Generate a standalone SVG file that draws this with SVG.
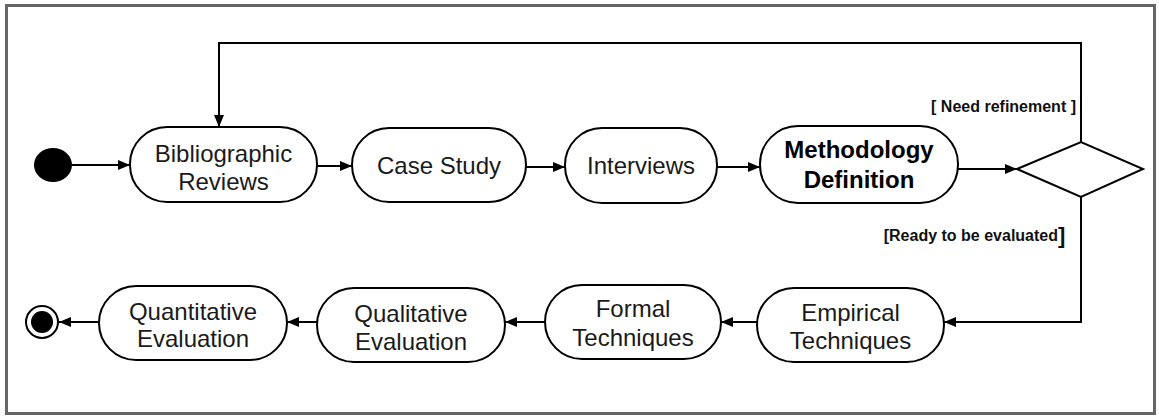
<svg xmlns="http://www.w3.org/2000/svg" width="1159" height="417" viewBox="0 0 1159 417">
<style>
.box{fill:#fff;stroke:#000;stroke-width:2}
.t{font-family:"Liberation Sans",Arial,sans-serif;font-size:24px;fill:#1a1a1a;text-anchor:middle}
.b{font-weight:bold;fill:#000}
.lbl{font-family:"Liberation Sans",Arial,sans-serif;font-size:16px;font-weight:bold;fill:#111;text-anchor:end}
.c{fill:none;stroke:#000;stroke-width:2}
</style>
<defs>
<marker id="ah" viewBox="0 0 12 10" refX="12" refY="5" markerWidth="12" markerHeight="10" markerUnits="userSpaceOnUse" orient="auto">
<path d="M0,0 L12,5 L0,10 Z" fill="#000"/>
</marker>
</defs>
<rect x="6.5" y="5.5" width="1148" height="408" fill="#fff" stroke="#666" stroke-width="3"/>
<g id="connectors">
<path class="c" d="M72,165 H130" marker-end="url(#ah)"/>
<path class="c" d="M317,166 H352" marker-end="url(#ah)"/>
<path class="c" d="M526,167 H565" marker-end="url(#ah)"/>
<path class="c" d="M717,167 H760" marker-end="url(#ah)"/>
<path class="c" d="M958,169 H1017" marker-end="url(#ah)"/>
<path class="c" d="M1081,142 V43 H219 V127" marker-end="url(#ah)"/>
<path class="c" d="M1081,197 V322 H944" marker-end="url(#ah)"/>
<path class="c" d="M757,322 H721" marker-end="url(#ah)"/>
<path class="c" d="M545,322 H505" marker-end="url(#ah)"/>
<path class="c" d="M317,322 H287" marker-end="url(#ah)"/>
<path class="c" d="M99,322 H59" marker-end="url(#ah)"/>
<text class="lbl" x="1076" y="112">[ Need refinement ]</text>
<text class="lbl" x="1058" y="241">[Ready to be evaluated</text>
<text x="1058" y="243" style="font-family:'Liberation Sans',Arial,sans-serif;font-size:22px;font-weight:bold;fill:#111">]</text>
</g>
<g id="start"><ellipse cx="53" cy="165" rx="19" ry="17" fill="#000"/></g>
<g id="bibliographic">
<rect class="box" x="130" y="127" width="187" height="75" rx="37" ry="37"/>
<text class="t" x="223.5" y="162">Bibliographic</text>
<text class="t" x="223.5" y="190">Reviews</text>
</g>
<g id="casestudy">
<rect class="box" x="352" y="128" width="174" height="74" rx="37" ry="37"/>
<text class="t" x="439" y="174">Case Study</text>
</g>
<g id="interviews">
<rect class="box" x="565" y="128" width="152" height="75" rx="37" ry="37"/>
<text class="t" x="641" y="174">Interviews</text>
</g>
<g id="methodology">
<rect class="box" x="760" y="126" width="198" height="77" rx="38" ry="38"/>
<text class="t b" x="859" y="158">Methodology</text>
<text class="t b" x="859" y="188">Definition</text>
</g>
<g id="decision">
<polygon class="box" points="1017,169 1081,142 1143,169 1081,197"/>
</g>
<g id="empirical">
<rect class="box" x="757" y="288" width="187" height="74" rx="37" ry="37"/>
<text class="t" x="850.5" y="321">Empirical</text>
<text class="t" x="850.5" y="349">Techniques</text>
</g>
<g id="formal">
<rect class="box" x="545" y="285" width="176" height="74" rx="37" ry="37"/>
<text class="t" x="633" y="317">Formal</text>
<text class="t" x="633" y="346">Techniques</text>
</g>
<g id="qualitative">
<rect class="box" x="317" y="288" width="188" height="74" rx="37" ry="37"/>
<text class="t" x="411" y="322">Qualitative</text>
<text class="t" x="411" y="350">Evaluation</text>
</g>
<g id="quantitative">
<rect class="box" x="99" y="286" width="188" height="74" rx="37" ry="37"/>
<text class="t" x="193" y="320">Quantitative</text>
<text class="t" x="193" y="347">Evaluation</text>
</g>
<g id="end">
<circle cx="42" cy="322" r="16" fill="#fff" stroke="#000" stroke-width="2"/>
<circle cx="42" cy="322" r="11" fill="#000"/>
</g>
</svg>
